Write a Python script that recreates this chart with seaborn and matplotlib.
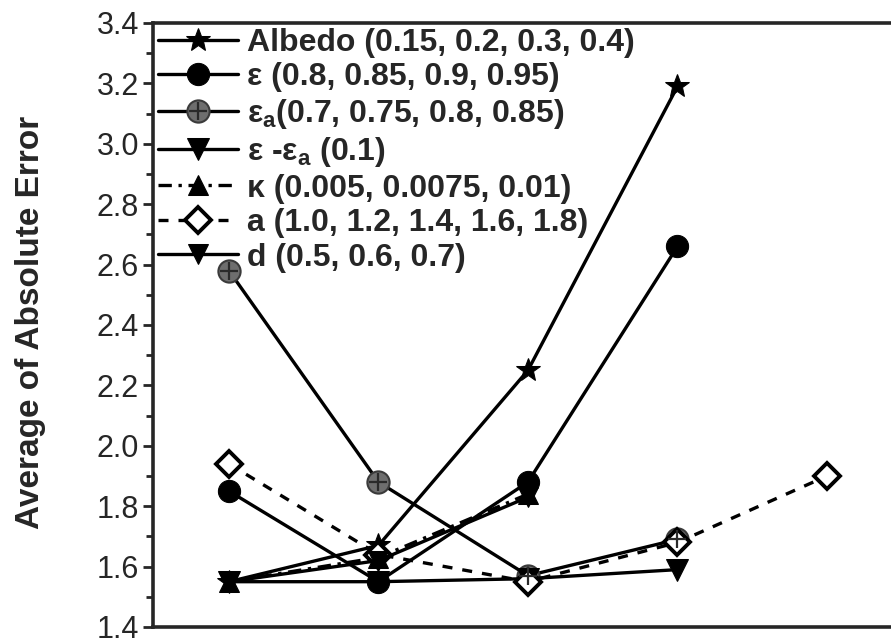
import numpy as np
import pandas as pd
import matplotlib
matplotlib.use("Agg")
import matplotlib.pyplot as plt
from matplotlib.ticker import MultipleLocator, NullLocator
from matplotlib.legend_handler import HandlerTuple
import seaborn as sns

# values (x = parameter step 1..5)
albedo = [1.55, 1.67, 2.25, 3.19]
eps = [1.85, 1.55, 1.88, 2.66]
eps_a = [2.58, 1.88, 1.57, 1.69]
eps_diff = [1.55, 1.55, 1.56, 1.59]
kappa = [1.55, 1.63, 1.84]
a_vals = [1.94, 1.64, 1.55, 1.68, 1.90]
d_vals = [1.55, 1.62, 1.83]

labels = ["Albedo (0.15, 0.2, 0.3, 0.4)",
          "ε (0.8, 0.85, 0.9, 0.95)",
          "ε$_a$(0.7, 0.75, 0.8, 0.85)",
          "ε -ε$_a$ (0.1)",
          "κ (0.005, 0.0075, 0.01)",
          "a (1.0, 1.2, 1.4, 1.6, 1.8)",
          "d (0.5, 0.6, 0.7)"]

sns.set_style("ticks")
plt.rcParams['font.family'] = ['Liberation Sans', 'DejaVu Sans']
plt.rcParams['mathtext.default'] = 'regular'

fig = plt.figure(figsize=(8.91, 6.44), dpi=100)
ax = fig.add_axes([0.1717, 0.0264, 0.8283, 0.9379])

series = [albedo, eps, eps_a, eps_diff, kappa, a_vals, d_vals]
styles = [
    dict(marker="*", ms=18, ls="-"),
    dict(marker="o", ms=16, ls="-"),
    dict(marker="o", ms=16, ls="-", mfc="#6e6e6e", mec="#3a3a3a", mew=1.5),
    dict(marker="v", ms=16, ls="-"),
    dict(marker="^", ms=14, ls=(0, (4, 2, 1, 2))),
    dict(marker="D", ms=13, ls=(0, (3, 3)), mfc="white", mew=2.8),
    dict(marker="v", ms=14, ls="-"),
]

handles = []
for vals, st, lab in zip(series, styles, labels):
    x = np.arange(1, len(vals) + 1)
    df = pd.DataFrame({"x": x, "y": vals})
    sns.lineplot(data=df, x="x", y="y", ax=ax, color="black", lw=2.4,
                 markeredgecolor=st.pop("mec", "black"), **st)
    handles.append(ax.get_lines()[-1])

# cross inside the eps_a circles
xa = np.arange(1, len(eps_a) + 1)
cross = ax.plot(xa, eps_a, ls="none", marker="+", ms=13, mew=1.6, color="#2a2a2a", zorder=5)[0]
handles[2] = (handles[2], cross)

ax.set_xlim(0.492, 5.428)
ax.set_ylim(1.4, 3.4)
ax.yaxis.set_major_locator(MultipleLocator(0.2))
ax.yaxis.set_minor_locator(MultipleLocator(0.1))
ax.xaxis.set_major_locator(NullLocator())
ax.yaxis.set_major_formatter(matplotlib.ticker.FormatStrFormatter("%.1f"))
ax.tick_params(axis="y", which="major", length=7, width=2, labelsize=22, pad=3)
ax.tick_params(axis="y", which="minor", length=5, width=2)
ax.set_xlabel("")
ax.set_ylabel("Average of Absolute Error", fontsize=24, fontweight="bold")
ax.yaxis.set_label_coords(-0.145, 0.505)

for side in ["left", "bottom", "top"]:
    ax.spines[side].set_linewidth(2.6)
    ax.spines[side].set_visible(True)
ax.spines["right"].set_visible(False)

leg = ax.legend(handles, labels, loc="upper left", bbox_to_anchor=(0.0, 1.0),
                frameon=False, handlelength=2.5, handletextpad=0.3, labelspacing=0.14,
                borderaxespad=0.05, borderpad=0.1, prop={"size": 23, "weight": "bold"},
                handler_map={tuple: HandlerTuple(ndivide=1, pad=0)})

fig.savefig("out.png", dpi=100)
